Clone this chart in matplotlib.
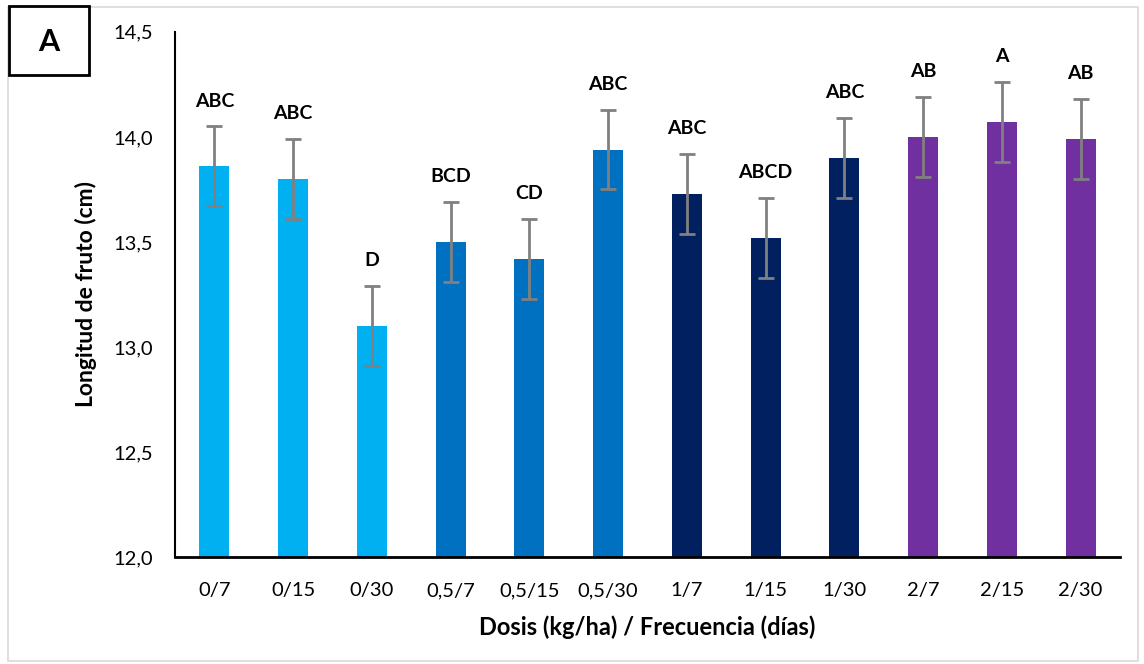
import numpy as np
import matplotlib.pyplot as plt
from matplotlib.ticker import FuncFormatter
from matplotlib.patches import Rectangle

plt.rcParams['font.family'] = ['Lato', 'DejaVu Sans']

# datos
tratamientos = ['0/7', '0/15', '0/30', '0,5/7', '0,5/15', '0,5/30',
                '1/7', '1/15', '1/30', '2/7', '2/15', '2/30']
longitud = [13.86, 13.80, 13.10, 13.50, 13.42, 13.94,
            13.73, 13.52, 13.90, 14.00, 14.07, 13.99]
error = [0.19, 0.19, 0.19, 0.19, 0.19, 0.19,
         0.19, 0.19, 0.19, 0.19, 0.19, 0.19]
letras = ['ABC', 'ABC', 'D', 'BCD', 'CD', 'ABC',
          'ABC', 'ABCD', 'ABC', 'AB', 'A', 'AB']
colores = ['#00B0F0'] * 3 + ['#0070C0'] * 3 + ['#002060'] * 3 + ['#7030A0'] * 3

fig = plt.figure(figsize=(11.44, 6.64), dpi=100)
ax = fig.add_axes([0.153, 0.161, 0.826, 0.791])

x = np.arange(len(tratamientos))
ax.bar(x, np.array(longitud) - 12.0, bottom=12.0, width=0.38, color=colores,
       yerr=error, ecolor='#808080', capsize=6,
       error_kw={'elinewidth': 2, 'capthick': 2})

for xi, v, e, t in zip(x, longitud, error, letras):
    ax.text(xi, v + e + 0.08, t, ha='center', va='bottom',
            fontsize=14, fontweight='bold')

ax.set_ylim(12.0, 14.5)
ax.set_xlim(-0.5, len(tratamientos) - 0.5)
ax.set_yticks([12.0, 12.5, 13.0, 13.5, 14.0, 14.5])
ax.yaxis.set_major_formatter(FuncFormatter(lambda v, p: f'{v:.1f}'.replace('.', ',')))
ax.set_xticks(x)
ax.set_xticklabels(tratamientos)
ax.tick_params(axis='both', length=0, labelsize=14.5)
ax.tick_params(axis='x', pad=18)
ax.tick_params(axis='y', pad=16)

ax.spines['top'].set_visible(False)
ax.spines['right'].set_visible(False)
ax.spines['left'].set_linewidth(1.5)
ax.spines['bottom'].set_linewidth(2)

ax.set_ylabel('Longitud de fruto (cm)', fontsize=16.5, fontweight='bold', labelpad=12)
ax.set_xlabel('Dosis (kg/ha) / Frecuencia (días)', fontsize=17, fontweight='bold', labelpad=12)

# marco del gráfico y recuadro "A"
fig.patches.append(Rectangle((0.007, 0.005), 0.988, 0.985, transform=fig.transFigure,
                             fill=False, edgecolor='#D9D9D9', linewidth=1.2))
fig.patches.append(Rectangle((0.008, 0.887), 0.07, 0.104, transform=fig.transFigure,
                             fill=True, facecolor='white', edgecolor='black', linewidth=2))
fig.text(0.043, 0.937, 'A', ha='center', va='center', fontsize=22, fontweight='bold')

fig.savefig('out.png', dpi=100)
